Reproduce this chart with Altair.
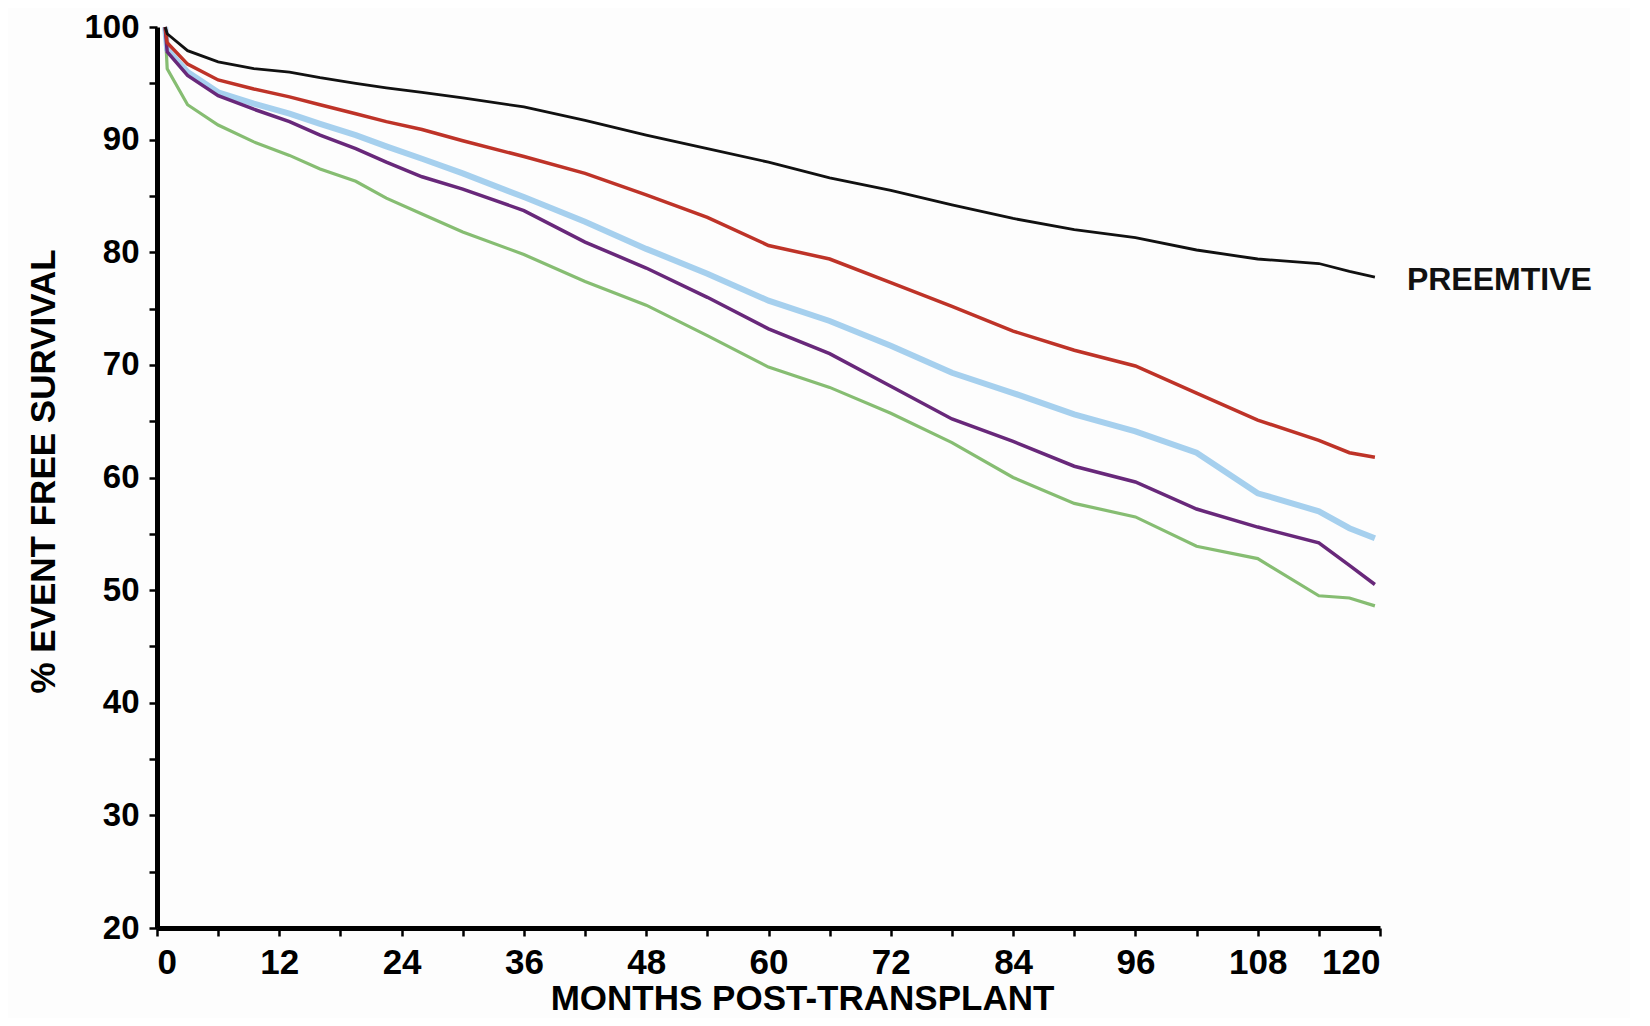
import altair as alt
import pandas as pd

months = [0.8, 1, 3, 6, 9.5, 13, 16, 19.5, 22.5, 26, 30, 36, 42, 48, 54, 60,
          66, 72, 78, 84, 90, 96, 102, 108, 114, 117, 119.5]

preemtive = [100, 99.4, 97.9, 96.9, 96.3, 96.0, 95.5, 95.0, 94.6, 94.2, 93.7, 92.9,
             91.7, 90.4, 89.2, 88.0, 86.6, 85.5, 84.2, 83.0, 82.0, 81.3, 80.2,
             79.4, 79.0, 78.3, 77.8]
red_series = [100, 98.6, 96.7, 95.3, 94.5, 93.8, 93.1, 92.3, 91.6, 90.9, 89.9, 88.5,
              87.0, 85.1, 83.1, 80.6, 79.4, 77.3, 75.2, 73.0, 71.3, 69.9, 67.5,
              65.1, 63.3, 62.2, 61.8]
blue_series = [100, 98.0, 96.0, 94.2, 93.2, 92.3, 91.4, 90.4, 89.4, 88.3, 87.0, 84.9,
               82.7, 80.3, 78.1, 75.7, 73.9, 71.7, 69.3, 67.5, 65.6, 64.1, 62.2,
               58.6, 57.0, 55.5, 54.6]
purple_series = [100, 97.8, 95.7, 93.9, 92.7, 91.6, 90.4, 89.2, 88.0, 86.7, 85.6, 83.7,
                 80.9, 78.6, 76.0, 73.2, 71.0, 68.1, 65.2, 63.2, 61.0, 59.6, 57.2,
                 55.6, 54.2, 52.2, 50.5]
green_series = [100, 96.3, 93.1, 91.3, 89.8, 88.6, 87.4, 86.3, 84.8, 83.4, 81.8, 79.8,
                77.4, 75.3, 72.6, 69.8, 68.0, 65.7, 63.1, 60.0, 57.7, 56.5, 53.9,
                52.8, 49.5, 49.3, 48.6]

series = [
    ("green", green_series, "#86bd72", 3.2),
    ("blue", blue_series, "#a6d0ee", 6),
    ("purple", purple_series, "#68287a", 3.5),
    ("red", red_series, "#be3328", 3.5),
    ("PREEMTIVE", preemtive, "#111111", 2.8),
]

rows = []
for name, vals, _, _ in series:
    for m, v in zip(months, vals):
        rows.append({"month": m, "value": v, "series": name})
df = pd.DataFrame(rows)

FONT = "Liberation Sans"

x_scale = alt.Scale(domain=[0, 120], nice=False, zero=False)
y_scale = alt.Scale(domain=[20, 100], nice=False, zero=False)

x_axis = alt.Axis(
    values=list(range(0, 121, 6)),
    labelExpr="datum.value % 12 == 0 ? datum.label : ''",
    title="MONTHS POST-TRANSPLANT",
    titleX=645, titleY=81, titleAlign="center", titleBaseline="alphabetic",
    titleFontSize=35, labelFontSize=35, labelPadding=9,
)
y_axis = alt.Axis(
    values=list(range(20, 101, 5)),
    labelExpr="datum.value % 10 == 0 ? datum.label : ''",
    title="% EVENT FREE SURVIVAL",
    titleAngle=270, titleX=-103, titleY=444, titleAlign="center",
    titleBaseline="alphabetic", titleFontSize=35, labelFontSize=33, labelPadding=10,
)

x_enc = alt.X("month:Q", scale=x_scale, axis=x_axis)
y_enc = alt.Y("value:Q", scale=y_scale, axis=y_axis)

layers = []
for name, _, color, width in series:
    layers.append(
        alt.Chart(df)
        .transform_filter(alt.datum.series == name)
        .mark_line(color=color, strokeWidth=width, interpolate="linear")
        .encode(x=x_enc, y=y_enc, order="month:Q")
    )

last = pd.DataFrame([{"month": months[-1], "value": preemtive[-1], "label": "PREEMTIVE"}])
label = (
    alt.Chart(last)
    .mark_text(align="left", baseline="middle", dx=32, dy=3, font=FONT,
               fontWeight="bold", fontSize=32, color="#111111")
    .encode(x=x_enc, y=y_enc, text="label:N")
)
layers.append(label)

chart = (
    alt.layer(*layers)
    .properties(
        width=1223, height=901,
        padding={"left": 149, "top": 19, "right": 250, "bottom": 90},
        autosize=alt.AutoSizeParams(type="none"),
        background="#fdfdfd",
    )
    .configure_view(stroke=None)
    .configure_axis(
        domainColor="black", domainWidth=5, tickColor="black", tickWidth=2.5,
        tickSize=8, grid=False, labelFont=FONT, labelFontWeight="bold",
        labelColor="black", titleFont=FONT, titleFontWeight="bold", titleColor="black",
    )
)

chart.save("out.html", embed_options={"renderer": "svg", "actions": False})
